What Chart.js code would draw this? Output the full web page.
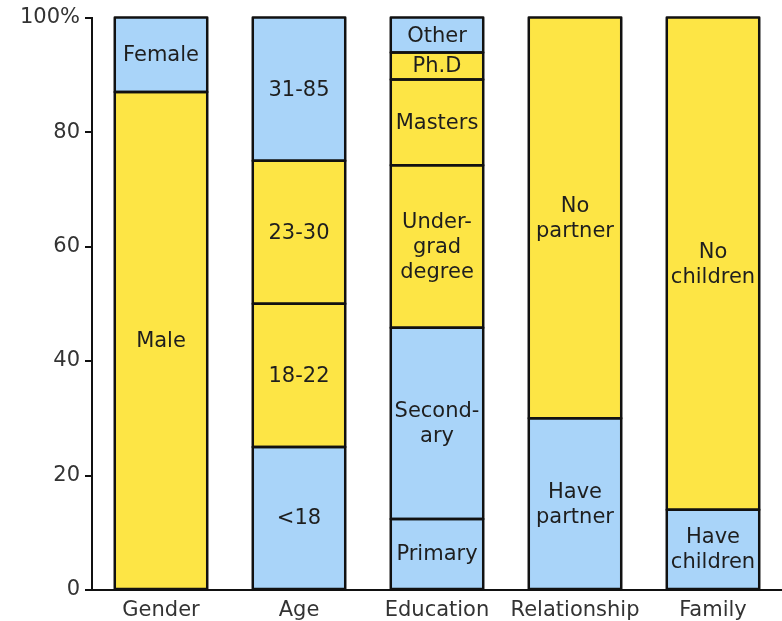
<!DOCTYPE html>
<html><head><meta charset="utf-8">
<script src="https://cdn.jsdelivr.net/npm/chart.js@4/dist/chart.umd.min.js"></script>
<style>html,body{margin:0;padding:0;background:#fff;}canvas{display:block;}</style>
</head><body>
<canvas id="c" width="782" height="621"></canvas>
<script>
const categories = ["Gender", "Age", "Education", "Relationship", "Family"];
const yTicks = [0, 20, 40, 60, 80, 100];
const BLUE = "#a9d4f9";
const YELLOW = "#fde545";

// stacked layers, bottom to top
const layer1Values = [87, 25, 12.4, 30, 14];
const layer1Labels = ["Male", "<18", "Primary", "Have\npartner", "Have\nchildren"];
const layer1Colors = [YELLOW, BLUE, BLUE, BLUE, BLUE];

const layer2Values = [13, 25, 33.4, 70, 86];
const layer2Labels = ["Female", "18-22", "Second-\nary", "No\npartner", "No\nchildren"];
const layer2Colors = [BLUE, YELLOW, BLUE, YELLOW, YELLOW];

const layer3Values = [null, 25, 28.4, null, null];
const layer3Labels = ["", "23-30", "Under-\ngrad\ndegree", "", ""];
const layer3Colors = [YELLOW, YELLOW, YELLOW, YELLOW, YELLOW];

const layer4Values = [null, 25, 15, null, null];
const layer4Labels = ["", "31-85", "Masters", "", ""];
const layer4Colors = [BLUE, BLUE, YELLOW, BLUE, BLUE];

const layer5Values = [null, null, 4.7, null, null];
const layer5Labels = ["", "", "Ph.D", "", ""];
const layer5Colors = [YELLOW, YELLOW, YELLOW, YELLOW, YELLOW];

const layer6Values = [null, null, 6.1, null, null];
const layer6Labels = ["", "", "Other", "", ""];
const layer6Colors = [BLUE, BLUE, BLUE, BLUE, BLUE];

const layers = [
  [layer1Values, layer1Labels, layer1Colors],
  [layer2Values, layer2Labels, layer2Colors],
  [layer3Values, layer3Labels, layer3Colors],
  [layer4Values, layer4Labels, layer4Colors],
  [layer5Values, layer5Labels, layer5Colors],
  [layer6Values, layer6Labels, layer6Colors]
];

const FONT = "'DejaVu Sans', Verdana, sans-serif";

const segLabels = {
  id: "segLabels",
  afterDatasetsDraw(chart) {
    const ctx = chart.ctx;
    ctx.save();
    // outlines centred on segment edges
    ctx.strokeStyle = "#111";
    ctx.lineWidth = 2.5;
    ctx.lineJoin = "round";
    chart.data.datasets.forEach((ds, di) => {
      const meta = chart.getDatasetMeta(di);
      meta.data.forEach((el, i) => {
        if (ds.data[i] == null) return;
        const top = Math.min(el.y, el.base), h = Math.abs(el.base - el.y);
        ctx.strokeRect(el.x - el.width / 2, top, el.width, h);
      });
    });
    ctx.font = "21px " + FONT;
    ctx.fillStyle = "#1e1e1e";
    ctx.textAlign = "center";
    ctx.textBaseline = "middle";
    const lh = 25;
    chart.data.datasets.forEach((ds, di) => {
      const meta = chart.getDatasetMeta(di);
      meta.data.forEach((el, i) => {
        const txt = ds.segLabels[i];
        if (!txt || ds.data[i] == null) return;
        const lines = txt.split("\n");
        const cy = (el.y + el.base) / 2;
        const start = cy - (lines.length - 1) * lh / 2;
        lines.forEach((ln, k) => ctx.fillText(ln, el.x, start + k * lh + 1));
      });
    });
    ctx.restore();
  }
};

new Chart(document.getElementById("c"), {
  type: "bar",
  data: {
    labels: categories,
    datasets: layers.map((l, idx) => ({
      label: "layer" + (idx + 1),
      data: l[0],
      segLabels: l[1],
      backgroundColor: l[2],
      borderWidth: 0,
      barPercentage: 0.67,
      categoryPercentage: 1.0
    }))
  },
  options: {
    responsive: false,
    animation: false,
    layout: { padding: { top: 16, right: 0, left: 0, bottom: 0 } },
    plugins: { legend: { display: false }, tooltip: { enabled: false } },
    scales: {
      x: {
        stacked: true,
        grid: { display: false },
        border: { display: true, color: "#111", width: 2 },
        ticks: { color: "#333", font: { family: FONT, size: 21 }, padding: 0 },
        afterFit(s) { s.height = 31; }
      },
      y: {
        stacked: true,
        min: 0, max: 100,
        afterBuildTicks(s) { s.ticks = yTicks.map(v => ({ value: v })); },
        grid: { drawOnChartArea: false, drawTicks: true, tickLength: 7, color: "#111", lineWidth: 2 },
        border: { display: true, color: "#111", width: 2 },
        ticks: {
          color: "#333", font: { family: FONT, size: 21 }, padding: 5,
          callback: (v) => v === 100 ? "100%" : String(v)
        },
        afterFit(s) { s.width = 92; }
      }
    }
  },
  plugins: [segLabels]
});
</script>
</body></html>
